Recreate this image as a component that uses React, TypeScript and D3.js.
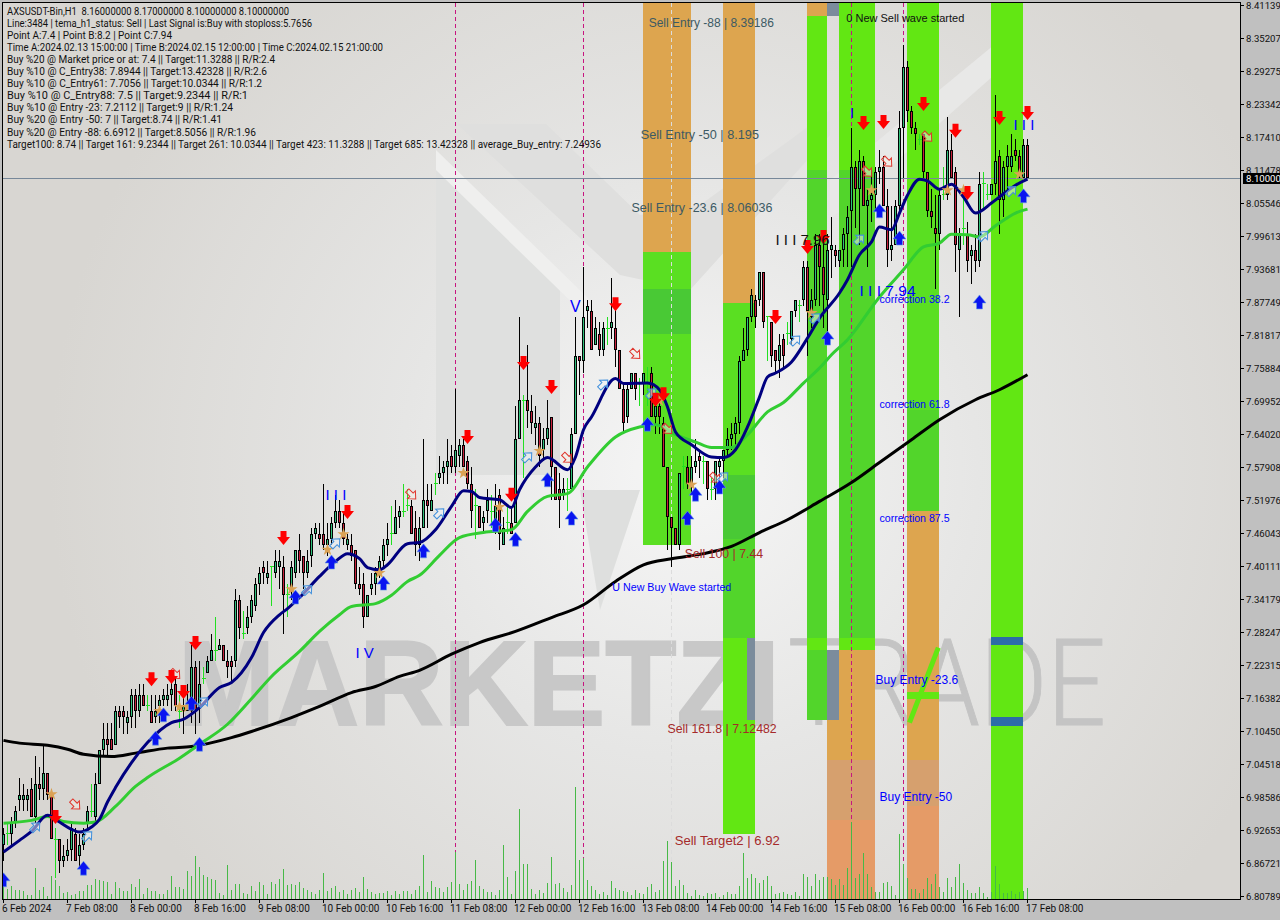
import React from "react";
import * as d3 from "d3";

const infoLines = [
  "AXSUSDT-Bin,H1  8.16000000 8.17000000 8.10000000 8.10000000",
  "Line:3484 | tema_h1_status: Sell | Last Signal is:Buy with stoploss:5.7656",
  "Point A:7.4 | Point B:8.2 | Point C:7.94",
  "Time A:2024.02.13 15:00:00 | Time B:2024.02.15 12:00:00 | Time C:2024.02.15 21:00:00",
  "Buy %20 @ Market price or at: 7.4 || Target:11.3288 || R/R:2.4",
  "Buy %10 @ C_Entry38: 7.8944 || Target:13.42328 || R/R:2.6",
  "Buy %10 @ C_Entry61: 7.7056 || Target:10.0344 || R/R:1.2",
  "Buy %10 @ C_Entry88: 7.5 || Target:9.2344 || R/R:1",
  "Buy %10 @ Entry -23: 7.2112 || Target:9 || R/R:1.24",
  "Buy %20 @ Entry -50: 7 || Target:8.74 || R/R:1.41",
  "Buy %20 @ Entry -88: 6.6912 || Target:8.5056 || R/R:1.96",
  "Target100: 8.74 || Target 161: 9.2344 || Target 261: 10.0344 || Target 423: 11.3288 || Target 685: 13.42328 || average_Buy_entry: 7.24936",
];
const infoWidths = [282, 305, 165, 376, 268, 260, 255, 241, 226, 215, 249, 594];

const priceTicks = [
  "8.41139","8.35207","8.29275","8.23342","8.17410","8.11478","8.05546","7.99613","7.93681","7.87749",
  "7.81817","7.75884","7.69952","7.64020","7.57908","7.51976","7.46043","7.40111","7.34179","7.28247",
  "7.22315","7.16382","7.10450","7.04518","6.98586","6.92653","6.86721","6.80789",
];
const timeTicks = [
  "6 Feb 2024","7 Feb 08:00","8 Feb 00:00","8 Feb 16:00","9 Feb 08:00","10 Feb 00:00","10 Feb 16:00","11 Feb 08:00","12 Feb 00:00",
  "12 Feb 16:00","13 Feb 08:00","14 Feb 00:00","14 Feb 16:00","15 Feb 08:00","16 Feb 00:00","16 Feb 16:00","17 Feb 08:00",
];

const opens = [
  6.90,6.92,6.92,6.94,6.98,6.98,6.98,7.00,6.95,7.01, 7.00,7.03,6.99,6.91,6.91,6.87,6.88,6.89,6.92,6.88,
  6.90,6.94,6.96,6.95,7.01,7.07,7.09,7.09,7.08,7.14, 7.14,7.12,7.13,7.17,7.14,7.17,7.15,7.14,7.13,7.15,
  7.16,7.16,7.17,7.19,7.14,7.14,7.14,7.14,7.22,7.15, 7.20,7.21,7.23,7.25,7.25,7.26,7.23,7.23,7.23,7.34,
  7.28,7.29,7.31,7.33,7.37,7.40,7.38,7.40,7.39,7.40, 7.40,7.35,7.36,7.39,7.43,7.42,7.39,7.42,7.46,7.46,
  7.46,7.44,7.45,7.48,7.50,7.48,7.44,7.44,7.43,7.37, 7.37,7.31,7.36,7.37,7.39,7.41,7.44,7.46,7.46,7.49,
  7.50,7.51,7.51,7.47,7.44,7.47,7.52,7.50,7.55,7.56, 7.57,7.58,7.60,7.58,7.60,7.62,7.59,7.55,7.51,7.51,
  7.48,7.50,7.50,7.48,7.53,7.44,7.48,7.48,7.48,7.63, 7.70,7.70,7.68,7.65,7.66,7.61,7.63,7.67,7.58,7.54,
  7.53,7.54,7.54,7.64,7.78,7.77,7.86,7.86,7.80,7.82, 7.79,7.83,7.83,7.83,7.79,7.72,7.67,7.72,7.75,7.73,
  7.73,7.73,7.75,7.67,7.69,7.66,7.58,7.49,7.47,7.44, 7.58,7.58,7.55,7.58,7.60,7.59,7.59,7.54,7.54,7.58,
  7.59,7.61,7.63,7.64,7.66,7.77,7.79,7.85,7.88,7.88, 7.93,7.85,7.84,7.79,7.77,7.81,7.82,7.81,7.86,7.87,
  7.88,7.94,7.85,7.88,7.98,7.94,7.88,7.97,7.97,7.95, 7.97,8.00,8.04,8.12,8.08,8.13,8.05,8.06,8.07,8.11,
  8.12,8.05,7.97,7.98,8.05,8.19,8.30,8.22,8.19,8.17, 8.18,8.11,8.04,8.01,8.00,8.07,8.07,8.15,8.11,7.97,
  8.01,8.00,7.96,7.97,7.95,8.09,8.07,8.07,8.09,8.14, 8.06,8.12,8.12,8.15,8.14,8.10,8.16,
];
const highs = [
  6.93,6.94,6.95,6.97,7.02,7.01,7.00,7.02,7.06,7.04, 7.08,7.03,7.00,6.93,6.91,6.90,6.91,6.94,6.93,6.92,
  6.93,6.97,7.01,7.03,7.07,7.12,7.12,7.12,7.15,7.15, 7.15,7.14,7.18,7.18,7.19,7.19,7.17,7.17,7.17,7.17,
  7.18,7.19,7.20,7.20,7.17,7.17,7.19,7.26,7.23,7.23, 7.22,7.24,7.28,7.31,7.27,7.26,7.25,7.24,7.36,7.35,
  7.32,7.33,7.35,7.38,7.40,7.41,7.41,7.40,7.43,7.43, 7.42,7.37,7.41,7.43,7.46,7.42,7.43,7.47,7.48,7.48,
  7.55,7.48,7.49,7.53,7.52,7.50,7.46,7.46,7.43,7.40, 7.39,7.35,7.39,7.40,7.42,7.45,7.48,7.51,7.52,7.51,
  7.55,7.54,7.52,7.50,7.49,7.63,7.55,7.55,7.57,7.60, 7.59,7.63,7.62,7.72,7.63,7.63,7.60,7.58,7.54,7.51,
  7.50,7.54,7.53,7.55,7.54,7.49,7.51,7.51,7.69,7.85, 7.71,7.80,7.71,7.69,7.67,7.65,7.70,7.67,7.58,7.57,
  7.56,7.56,7.65,7.85,7.78,7.94,7.88,7.88,7.85,7.84, 7.84,7.85,7.92,7.87,7.79,7.73,7.73,7.75,7.75,7.74,
  7.75,7.76,7.76,7.70,7.70,7.67,7.58,7.49,7.47,7.57, 7.60,7.60,7.60,7.63,7.61,7.60,7.59,7.56,7.59,7.60,
  7.61,7.65,7.66,7.67,7.78,7.83,7.85,7.90,7.89,7.93, 7.93,7.85,7.84,7.79,7.82,7.82,7.84,7.86,7.88,7.88,
  7.95,7.95,7.90,8.00,8.00,8.00,8.00,8.03,7.98,7.97, 8.01,8.05,8.19,8.13,8.15,8.14,8.08,8.11,8.12,8.15,
  8.14,8.08,8.05,8.06,8.22,8.34,8.31,8.23,8.20,8.18, 8.18,8.11,8.08,8.07,8.08,8.12,8.21,8.18,8.12,8.01,
  8.07,8.02,7.98,8.00,8.11,8.11,8.09,8.09,8.25,8.15, 8.13,8.16,8.18,8.17,8.15,8.17,8.17,
];
const lows = [
  6.87,6.90,6.90,6.93,6.96,6.96,6.96,6.95,6.94,6.98, 6.98,6.98,6.91,6.84,6.85,6.86,6.87,6.87,6.87,6.86,
  6.89,6.93,6.95,6.94,7.01,7.06,7.06,7.07,7.08,7.11, 7.10,7.10,7.11,7.11,7.13,7.15,7.14,7.12,7.12,7.12,
  7.15,7.15,7.14,7.14,7.11,7.10,7.14,7.12,7.10,7.12, 7.19,7.21,7.23,7.23,7.25,7.23,7.20,7.19,7.22,7.27,
  7.27,7.28,7.30,7.32,7.35,7.37,7.37,7.33,7.38,7.36, 7.28,7.31,7.34,7.38,7.39,7.36,7.38,7.40,7.45,7.44,
  7.43,7.42,7.44,7.47,7.47,7.44,7.43,7.41,7.36,7.35, 7.29,7.31,7.35,7.35,7.38,7.40,7.42,7.44,7.46,7.47,
  7.49,7.50,7.46,7.42,7.41,7.47,7.47,7.50,7.53,7.55, 7.55,7.55,7.57,7.57,7.58,7.58,7.54,7.47,7.45,7.47,
  7.46,7.48,7.47,7.46,7.43,7.44,7.46,7.46,7.48,7.63, 7.56,7.65,7.64,7.62,7.58,7.59,7.62,7.52,7.52,7.47,
  7.52,7.50,7.54,7.64,7.71,7.75,7.83,7.79,7.80,7.78, 7.78,7.80,7.81,7.76,7.72,7.64,7.66,7.72,7.70,7.69,
  7.71,7.69,7.67,7.64,7.64,7.58,7.43,7.40,7.44,7.43, 7.54,7.54,7.53,7.57,7.56,7.55,7.52,7.52,7.52,7.56,
  7.56,7.60,7.61,7.62,7.64,7.77,7.78,7.84,7.83,7.87, 7.83,7.77,7.76,7.75,7.74,7.76,7.80,7.80,7.85,7.84,
  7.87,7.78,7.83,7.87,7.87,7.83,7.82,7.92,7.94,7.94, 7.94,7.94,7.94,8.01,7.98,8.05,7.94,8.02,8.04,8.09,
  8.05,7.94,7.95,7.98,8.04,8.10,8.20,8.18,8.15,8.16, 8.10,8.03,8.01,7.90,7.97,8.06,8.06,8.10,7.93,7.85,
  7.98,7.93,7.91,7.93,7.94,8.04,8.06,8.07,8.07,8.00, 8.03,8.07,8.11,8.13,8.10,8.10,8.10,
];
const closes = [
  6.92,6.92,6.94,6.96,6.99,6.99,6.99,6.95,7.01,7.00, 7.03,6.99,6.91,6.91,6.87,6.88,6.89,6.93,6.87,6.90,
  6.92,6.96,6.96,7.01,7.07,7.09,7.08,7.07,7.14,7.13, 7.13,7.13,7.17,7.14,7.17,7.15,7.15,7.12,7.14,7.16,
  7.17,7.17,7.18,7.15,7.14,7.15,7.15,7.22,7.14,7.19, 7.20,7.23,7.25,7.25,7.26,7.23,7.22,7.22,7.34,7.29,
  7.28,7.31,7.34,7.37,7.39,7.39,7.39,7.40,7.41,7.41, 7.35,7.35,7.40,7.43,7.41,7.39,7.41,7.46,7.47,7.45,
  7.44,7.45,7.48,7.50,7.48,7.45,7.45,7.42,7.37,7.36, 7.31,7.35,7.37,7.39,7.41,7.44,7.45,7.46,7.49,7.50,
  7.50,7.51,7.46,7.44,7.47,7.52,7.51,7.52,7.55,7.57, 7.58,7.59,7.58,7.61,7.62,7.58,7.55,7.50,7.51,7.47,
  7.49,7.52,7.50,7.51,7.46,7.47,7.48,7.46,7.63,7.70, 7.70,7.68,7.66,7.66,7.60,7.63,7.65,7.58,7.52,7.52,
  7.54,7.54,7.64,7.78,7.77,7.85,7.87,7.79,7.83,7.79, 7.83,7.83,7.84,7.79,7.72,7.66,7.72,7.75,7.72,7.73,
  7.75,7.73,7.67,7.69,7.67,7.58,7.49,7.47,7.44,7.57, 7.58,7.55,7.58,7.59,7.59,7.59,7.54,7.54,7.59,7.59,
  7.61,7.63,7.64,7.66,7.77,7.79,7.85,7.89,7.85,7.93, 7.84,7.85,7.78,7.77,7.80,7.78,7.82,7.86,7.88,7.87,
  7.94,7.86,7.88,7.98,7.94,7.89,7.97,7.98,7.96,7.97, 8.00,8.03,8.12,8.08,8.13,8.05,8.06,8.07,8.11,8.12,
  8.05,7.97,7.98,8.05,8.19,8.30,8.22,8.19,8.18,8.17, 8.11,8.04,8.03,8.00,8.07,8.07,8.15,8.10,7.98,8.00,
  8.01,7.95,7.97,7.95,8.09,8.09,8.07,8.09,8.13,8.06, 8.12,8.14,8.14,8.14,8.11,8.16,8.10,
];
const volumes = [
  16,10,13,9,9,8,4,4,31,9, 12,3,23,19,13,6,7,4,5,8, 8,14,14,20,19,18,17,5,17,11, 8,8,15,12,20,5,11,8,8,5,
  5,9,23,12,12,10,28,23,43,32, 24,22,20,19,6,4,34,9,15,15, 6,5,13,8,17,14,5,17,15,20, 30,14,15,14,17,11,9,7,5,9,
  26,8,11,13,7,9,5,9,11,7, 22,10,7,5,6,6,8,4,8,5,
  8,8,5,9,13,44,7,18,12,11, 7,12,17,47,15,9,15,18,39,13, 10,7,7,4,9,54,22,5,28,90, 35,35,10,5,9,6,16,42,15,16,
  11,7,14,112,39,41,19,13,9,5, 7,4,18,11,9,8,7,4,9,6, 5,12,15,7,9,38,58,37,13,19, 14,6,3,9,4,3,6,5,6,2,
  4,7,5,5,13,46,21,25,21,16, 19,23,13,5,6,7,5,4,7,3,
  25,22,13,25,19,22,22,20,14,20, 14,31,77,21,25,46,25,12,7,7, 16,17,13,4,65,35,21,10,10,6,
  10,21,15,25,12,7,21,12,22,35, 16,9,6,6,12,6,2,7,33,15, 6,6,8,5,7,8,11,
];

// Moving averages, read as [bar, price]
const fastMa: [number, number][] = [
  [0,6.887],[4,6.908],[7,6.924],[11,6.953],[14,6.941],[17,6.928],[19,6.923],[22,6.932],[24,6.946],[26,6.977],[28,7.003],
  [32,7.048],[36,7.084],[42,7.120],[45,7.126],[49,7.147],[54,7.183],[57,7.192],[62,7.237],[65,7.282],[69,7.314],[71,7.325],
  [74,7.345],[79,7.383],[83,7.410],[86,7.424],[89,7.415],[91,7.399],[94,7.395],[96,7.404],[101,7.442],[104,7.444],[108,7.467],
  [112,7.509],[115,7.537],[117,7.536],[119,7.525],[124,7.521],[127,7.507],[129,7.539],[133,7.580],[136,7.597],[141,7.575],
  [143,7.598],[145,7.647],[147,7.670],[153,7.739],[155,7.730],[161,7.731],[164,7.719],[166,7.688],[168,7.643],[172,7.620],
  [177,7.598],[180,7.597],[183,7.611],[186,7.652],[189,7.706],[191,7.742],[193,7.749],[197,7.769],[201,7.812],[204,7.848],
  [209,7.893],[211,7.917],[214,7.962],[217,7.985],[219,8.012],[222,8.007],[224,8.037],[226,8.069],[229,8.098],[231,8.095],
  [234,8.080],[237,8.089],[240,8.066],[243,8.037],[247,8.055],[249,8.066],[253,8.087],[256,8.098],
];
const midMa: [number, number][] = [
  [0,6.939],[7,6.944],[11,6.951],[15,6.942],[20,6.939],[23,6.941],[28,6.969],[33,7.005],[36,7.021],[44,7.056],[49,7.081],
  [56,7.117],[62,7.163],[67,7.203],[74,7.248],[79,7.284],[84,7.314],[87,7.329],[93,7.334],[97,7.349],[101,7.374],[104,7.385],
  [109,7.421],[114,7.453],[120,7.462],[127,7.467],[131,7.500],[136,7.527],[141,7.532],[146,7.580],[153,7.634],[159,7.652],
  [163,7.656],[168,7.638],[173,7.625],[177,7.615],[182,7.615],[186,7.638],[191,7.679],[195,7.696],[200,7.731],[204,7.758],
  [207,7.782],[211,7.809],[219,7.886],[225,7.935],[230,7.976],[234,7.983],[237,7.999],[241,7.998],[244,7.994],[248,8.014],
  [253,8.037],[256,8.044],
];
const slowMa: [number, number][] = [
  [0,7.088],[4,7.083],[11,7.079],[16,7.072],[20,7.063],[27,7.059],[33,7.065],[41,7.074],[47,7.077],[57,7.093],[62,7.104],
  [72,7.129],[79,7.149],[87,7.174],[93,7.185],[99,7.203],[104,7.214],[112,7.243],[119,7.264],[128,7.284],[137,7.309],
  [145,7.332],[153,7.374],[160,7.404],[167,7.415],[175,7.424],[182,7.437],[189,7.462],[196,7.485],[204,7.518],[212,7.552],
  [219,7.588],[227,7.629],[234,7.665],[243,7.701],[249,7.719],[256,7.746],
];

const redArrows: [number, number][] = [
  [13,6.95],[37,7.198],[42,7.202],[45,7.175],[48,7.263],[70,7.452],[86,7.499],[116,7.634],[130,7.767],[137,7.724],[127,7.53],
  [153,7.873],[163,7.701],[165,7.711],[193,7.85],[201,7.976],[205,7.994],[215,8.199],[220,8.201],[230,8.233],[238,8.185],
  [241,8.073],[249,8.208],[256,8.217],
];
const blueArrows: [number, number][] = [
  [0,6.837],[20,6.858],[38,7.092],[40,7.134],[47,7.155],[49,7.081],[73,7.346],[82,7.409],[95,7.371],[105,7.429],[123,7.476],
  [128,7.45],[136,7.557],[142,7.488],[161,7.657],[171,7.488],[173,7.531],[179,7.544],[206,7.812],[219,8.041],[224,7.992],
  [244,7.877],[255,8.068],
];
const stars: [number, number][] = [
  [12,6.991],[39,7.141],[44,7.148],[46,7.148],[72,7.36],[81,7.431],[85,7.459],[94,7.389],[115,7.569],[124,7.508],[134,7.609],
  [164,7.699],[172,7.548],[202,7.857],[217,8.078],[236,8.078],[240,8.078],[254,8.107],
];
const hollowBlue: [number, number][] = [
  [8,6.932],[21,6.916],[50,7.157],[76,7.359],[83,7.443],[109,7.497],[131,7.598],[150,7.729],[162,7.713],[180,7.562],[198,7.808],
  [203,7.848],[214,7.99],[245,7.996],[252,8.077],
];
const hollowRed: [number, number][] = [
  [18,6.972],[43,7.207],[102,7.53],[141,7.596],[158,7.783],[166,7.648],[178,7.56],[216,8.111],[221,8.129],[231,8.174],
];

const C = {
  orange: "#dda54f", tan: "#d6a06e", salmon: "#e59b67", lime: "#62e713", green: "#5adf22",
  mid: "#52d52b", dark: "#49c935", slate: "#7b8c9c", blue: "#2c6ca8",
};
const TOP = 8.4175;
const BOT = 6.803;
// [first bar, last bar, upper price, lower price, colour]
const zones: [number, number, number, number, string][] = [
  [160,172,TOP,7.967,C.orange],[160,172,7.967,7.44,C.green],[160,172,7.90,7.82,C.dark],
  [180,188,TOP,7.875,C.orange],[180,188,7.875,7.566,C.green],[180,188,7.566,7.45,C.dark],[180,188,7.45,7.273,C.mid],[180,188,7.273,6.92,C.lime],
  [201,206,TOP,8.392,C.orange],[201,206,8.392,8.115,C.lime],[201,206,8.115,7.273,C.mid],[201,206,7.273,7.25,C.lime],[201,206,7.25,7.125,C.mid],
  [206,209,TOP,8.392,C.slate],
  [206,218,7.25,7.053,C.orange],[206,218,7.053,6.945,C.tan],[206,218,6.945,BOT,C.salmon],
  [206,209,7.25,7.125,C.slate],
  [209,218,TOP,8.115,C.lime],[209,218,8.115,7.273,C.mid],[209,218,7.273,7.25,C.lime],
  [226,234,TOP,8.061,C.lime],[226,234,8.061,7.683,C.green],[226,234,7.683,7.5,C.mid],[226,234,7.5,7.053,C.orange],[226,234,7.053,6.97,C.tan],[226,234,6.97,BOT,C.salmon],
  [226,234,7.175,7.163,C.lime],
  [247,255,TOP,BOT,C.lime],[247,255,7.2735,7.26,C.blue],[247,255,7.13,7.114,C.blue],
  [186,188,7.273,7.125,C.slate],
];

const dashedBars = [113, 145, 212, 225];
const guideBar = 167;
const lastPrice = 8.1;

type Label = { text: string; bar: number; price: number; color: string; size?: number };
const labels: Label[] = [
  { text: "Sell Entry -88 | 8.39186", bar: 161.3, price: 8.371, color: "#3c5a64" },
  { text: "Sell Entry -50 | 8.195", bar: 159.3, price: 8.171, color: "#3c5a64", size: 12.7 },
  { text: "Sell Entry -23.6 | 8.06036", bar: 157, price: 8.038, color: "#3c5a64", size: 12.5 },
  { text: "0 New Sell wave started", bar: 210.7, price: 8.38, color: "#111111", size: 11 },
  { text: "Sell 100 | 7.44", bar: 170.3, price: 7.417, color: "#a52a2a", size: 12.3 },
  { text: "U New Buy Wave started", bar: 152.2, price: 7.357, color: "#0000ff", size: 10.7 },
  { text: "Sell 161.8 | 7.12482", bar: 166, price: 7.102, color: "#a52a2a", size: 12.3 },
  { text: "Sell Target2 | 6.92", bar: 167.8, price: 6.899, color: "#a52a2a", size: 13.1 },
  { text: "correction 38.2", bar: 219, price: 7.875, color: "#0000ff", size: 10.6 },
  { text: "correction 61.8", bar: 219, price: 7.686, color: "#0000ff", size: 10.6 },
  { text: "correction 87.5", bar: 219, price: 7.481, color: "#0000ff", size: 10.6 },
  { text: "Buy Entry -23.6", bar: 218, price: 7.189, color: "#0000ff" },
  { text: "Buy Entry -50", bar: 219, price: 6.978, color: "#0000ff" },
  { text: "I I I", bar: 80.5, price: 7.521, color: "#0000ff", size: 15 },
  { text: "I V", bar: 88, price: 7.237, color: "#0000ff", size: 15 },
  { text: "V", bar: 141.6, price: 7.858, color: "#0000ff", size: 16 },
  { text: "I I I 7.96", bar: 193, price: 7.98, color: "#111111", size: 15 },
  { text: "I I I 7.94", bar: 214, price: 7.887, color: "#0000ff", size: 15.5 },
  { text: "I I I", bar: 252.5, price: 8.187, color: "#0000ff", size: 15 },
  { text: "I", bar: 211.6, price: 8.208, color: "#0000ff", size: 15 },
];

const x = d3.scaleLinear().domain([0, 256]).range([3.5, 1027.5]);
const y = d3.scaleLinear().domain([6.80789, 8.41139]).range([896, 5]);
const vol = d3.scaleLinear().domain([0, 112]).range([899, 787]);
const sans = "'Liberation Sans', Arial, sans-serif";
const ui = "Roboto, sans-serif";

const lineOf = d3.line<[number, number]>().x((d) => x(d[0])).y((d) => y(d[1])).curve(d3.curveMonotoneX);
const ARROW = "M-3,-7 L3,-7 L3,-1 L6.5,-1 L0,7 L-6.5,-1 L-3,-1 Z";
const HOLLOW = "M-2.3,-6 L2.3,-6 L2.3,0 L5.5,0 L0,6 L-5.5,0 L-2.3,0 Z";
const star = d3.symbol().type(d3.symbolStar).size(46)() as string;

export default function App() {
  const barLeft = (b: number) => x(b) - 0.5;
  return (
    <svg width={1280} height={920} style={{ position: "absolute", left: 0, top: 0, display: "block" }}>
      <defs>
        <radialGradient id="bg" gradientUnits="userSpaceOnUse" cx={690} cy={470} r={640}>
          <stop offset="0" stopColor="#f6f6f6" />
          <stop offset="0.45" stopColor="#e6e6e5" />
          <stop offset="1" stopColor="#d8d6d2" />
        </radialGradient>
        <clipPath id="plot"><rect x={3} y={3} width={1237} height={896} /></clipPath>
      </defs>
      <rect x={0} y={0} width={1280} height={920} fill="#c0c0c0" />
      <rect x={3} y={3} width={1237} height={896} fill="url(#bg)" />
      <g clipPath="url(#plot)">
        <polygon points="436,165 436,475 560,475 560,290" fill="#dfe0df" />
        <polygon points="457,124 546,124 640,215 700,205 790,140 830,110 830,135 690,290 620,275" fill="#dfdfde" />
        <polygon points="436,150 590,300 590,320 436,170" fill="#efefee" />
        <polygon points="580,490 640,490 600,610" fill="#dedfde" />
        <polygon points="830,180 1000,40 1000,70 830,220" fill="#e8e8e7" />
        <text x={178} y={725} fontFamily={sans} fontWeight={700} fontSize={121} fill="#c8c8c8" stroke="#c8c8c8" strokeWidth={2} textLength={602} lengthAdjust="spacingAndGlyphs">MARKETZI</text>
        <text x={788} y={725} fontFamily="Roboto, sans-serif" fontWeight={300} fontSize={121} fill="#c4c4c4" stroke="#c4c4c4" strokeWidth={1} textLength={318} lengthAdjust="spacingAndGlyphs">TRADE</text>
        {zones.map(([a, b, p1, p2, color], i) => (
          <rect key={i} x={barLeft(a)} width={barLeft(b) - barLeft(a)} y={Math.round(y(p1))} height={Math.round(y(p2)) - Math.round(y(p1))} fill={color} shapeRendering="crispEdges" />
        ))}
        <line x1={x(226.5)} y1={y(7.12)} x2={x(233.7)} y2={y(7.255)} stroke={C.lime} strokeWidth={5} />
        {dashedBars.map((b) => (
          <line key={b} x1={x(b)} x2={x(b)} y1={3} y2={899} stroke="#c7157f" strokeWidth={1} strokeDasharray="4 3" shapeRendering="crispEdges" />
        ))}
        <line x1={x(guideBar)} x2={x(guideBar)} y1={3} y2={899} stroke="#dcdcdc" strokeWidth={1} strokeDasharray="4 3" shapeRendering="crispEdges" />
        <line x1={3} x2={1240} y1={Math.round(y(lastPrice)) + 0.5} y2={Math.round(y(lastPrice)) + 0.5} stroke="#778899" strokeWidth={1} shapeRendering="crispEdges" />
        {volumes.map((v, i) => (
          <line key={i} x1={x(i)} x2={x(i)} y1={899} y2={vol(v)} stroke="#47b947" strokeWidth={1} shapeRendering="crispEdges" />
        ))}
        <g shapeRendering="crispEdges">
          {opens.map((o, i) => {
            const c = closes[i];
            const px = x(i);
            if (o === c) {
              return (
                <g key={i} stroke="#22e022" strokeWidth={1}>
                  <line x1={px} x2={px} y1={y(highs[i])} y2={y(lows[i])} />
                  <line x1={px - 2} x2={px + 2} y1={y(o)} y2={y(o)} />
                </g>
              );
            }
            const top = y(Math.max(o, c));
            const bot = y(Math.min(o, c));
            return (
              <g key={i}>
                <line x1={px} x2={px} y1={y(highs[i])} y2={y(lows[i])} stroke="#000" strokeWidth={1} />
                <rect x={px - 1.5} y={top} width={3} height={Math.max(bot - top, 2)} fill="#000" />
                <rect x={px - 0.5} y={top + 1} width={1} height={Math.max(bot - top - 2, 0.5)} fill={c > o ? "#2fc07a" : "#c8203c"} />
              </g>
            );
          })}
        </g>
        <path d={lineOf(slowMa) as string} fill="none" stroke="#000" strokeWidth={3} />
        <path d={lineOf(midMa) as string} fill="none" stroke="#32cd32" strokeWidth={3} />
        <path d={lineOf(fastMa) as string} fill="none" stroke="#000080" strokeWidth={3} />
        {stars.map(([b, p], i) => (
          <path key={i} d={star} transform={`translate(${x(b)},${y(p)})`} fill="#dba255" />
        ))}
        {hollowRed.map(([b, p], i) => (
          <path key={i} d={HOLLOW} transform={`translate(${x(b)},${y(p)}) rotate(-45)`} fill="#f3efe8" fillOpacity={0.5} stroke="#e0342c" strokeWidth={1} />
        ))}
        {hollowBlue.map(([b, p], i) => (
          <path key={i} d={HOLLOW} transform={`translate(${x(b)},${y(p)}) rotate(225)`} fill="#eef2f5" fillOpacity={0.5} stroke="#3f8fdc" strokeWidth={1} />
        ))}
        {redArrows.map(([b, p], i) => (
          <path key={i} d={ARROW} transform={`translate(${x(b)},${y(p)})`} fill="#ff0000" />
        ))}
        {blueArrows.map(([b, p], i) => (
          <path key={i} d={ARROW} transform={`translate(${x(b)},${y(p)}) rotate(180)`} fill="#0a14f0" stroke="#6a9fe6" strokeWidth={0.6} />
        ))}
        {labels.map((l, i) => (
          <text key={i} x={x(l.bar)} y={y(l.price)} fontFamily={sans} fontSize={l.size ?? 12} fill={l.color}>{l.text}</text>
        ))}
        {infoLines.map((t, i) => (
          <text key={i} x={7} y={14.5 + i * 12.1} fontFamily={ui} fontSize={10} fill="#111" style={{ whiteSpace: "pre" }} textLength={infoWidths[i]} lengthAdjust="spacingAndGlyphs">{t}</text>
        ))}
      </g>
      <line x1={2.5} x2={2.5} y1={2} y2={899} stroke="#000" shapeRendering="crispEdges" />
      <line x1={2} x2={1241} y1={2.5} y2={2.5} stroke="#000" shapeRendering="crispEdges" />
      <line x1={1240.5} x2={1240.5} y1={2} y2={900} stroke="#000" shapeRendering="crispEdges" />
      <line x1={2} x2={1241} y1={899.5} y2={899.5} stroke="#000" shapeRendering="crispEdges" />
      {priceTicks.map((t, i) => {
        const ty = 5.5 + i * 33;
        return (
          <g key={t}>
            <line x1={1240} x2={1244} y1={ty} y2={ty} stroke="#000" shapeRendering="crispEdges" />
            <text x={1246} y={ty + 3.5} fontFamily={ui} fontSize={9.6} fill="#111">{t}</text>
          </g>
        );
      })}
      <rect x={1243} y={173} width={37} height={11} fill="#000" />
      <text x={1246} y={182} fontFamily={ui} fontSize={9.6} fill="#fff">8.10000</text>
      {timeTicks.map((t, i) => {
        const tx = x(i * 16);
        return (
          <g key={t}>
            <line x1={tx} x2={tx} y1={899} y2={903} stroke="#000" shapeRendering="crispEdges" />
            <text x={tx - 1.5} y={912} fontFamily={ui} fontSize={10} fill="#111">{t}</text>
          </g>
        );
      })}
    </svg>
  );
}
